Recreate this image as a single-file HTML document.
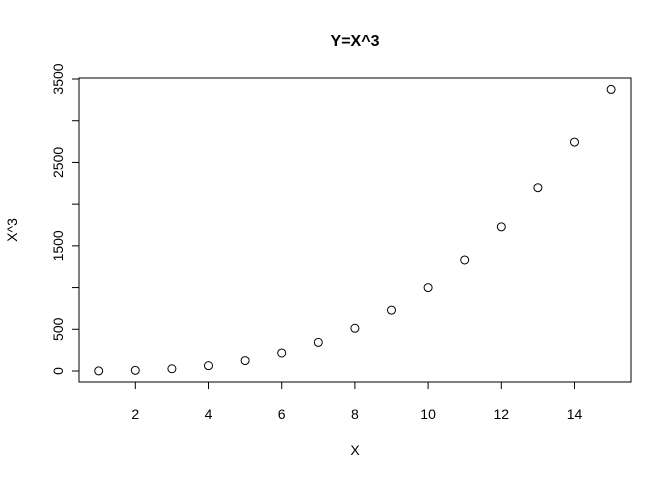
<!DOCTYPE html>
<html><head><meta charset="utf-8"><style>body{margin:0;background:#fff}svg{display:block;font-family:"Liberation Sans",sans-serif}</style></head>
<body>
<svg id="c" width="672" height="480">
<text x="355" y="46" text-anchor="middle" font-size="16" font-weight="bold">Y=X^3</text>
<text x="355" y="455" text-anchor="middle" font-size="14">X</text>
<text transform="translate(17,230) rotate(-90)" text-anchor="middle" font-size="14">X^3</text>
<rect x="79" y="78" width="552" height="304" fill="none" stroke="#000"/>
<g id="ax"></g><g id="pts"></g>
</svg>
<script>
const xs=[1,2,3,4,5,6,7,8,9,10,11,12,13,14,15];
const ys=[1,8,27,64,125,216,343,512,729,1000,1331,1728,2197,2744,3375];
const xTicks=[2,4,6,8,10,12,14];
const yTicks=[0,500,1000,1500,2000,2500,3000,3500];
const yLabels=["0","500","","1500","","2500","","3500"];
const NS="http://www.w3.org/2000/svg";
const sx=v=>98.7+(v-1)*36.6;
const sy=v=>371-v*292/3500;
function mk(t,a,p){const e=document.createElementNS(NS,t);for(const k in a)e.setAttribute(k,a[k]);p.appendChild(e);return e;}
const ax=document.getElementById('ax'),pts=document.getElementById('pts');
mk('line',{x1:sx(2),x2:sx(14),y1:382,y2:382,stroke:'#000'},ax);
xTicks.forEach(v=>{mk('line',{x1:sx(v),x2:sx(v),y1:382,y2:389,stroke:'#000'},ax);
const t=mk('text',{x:sx(v),y:419,'text-anchor':'middle','font-size':14},ax);t.textContent=v;

});
mk('line',{x1:79,x2:79,y1:sy(0),y2:sy(3500),stroke:'#000'},ax);
yTicks.forEach((v,i)=>{mk('line',{x1:72,x2:79,y1:sy(v),y2:sy(v),stroke:'#000'},ax);
if(yLabels[i]){const t=mk('text',{transform:`translate(63,${sy(v)}) rotate(-90)`,'text-anchor':'middle','font-size':14},ax);t.textContent=yLabels[i];

}});
xs.forEach((x,i)=>{const c=mk('circle',{cx:sx(x),cy:sy(ys[i]),r:4,fill:'none',stroke:'#000'},pts);

});
</script>
</body></html>
